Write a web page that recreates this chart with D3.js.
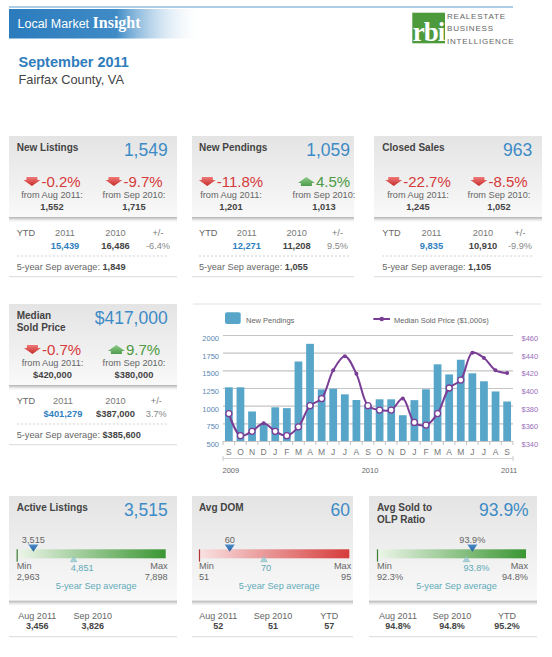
<!DOCTYPE html>
<html><head><meta charset="utf-8">
<script src="https://cdn.jsdelivr.net/npm/d3@7"></script>
<style>body{margin:0;background:#fff}svg{display:block;font-family:"Liberation Sans",Arial,Helvetica,sans-serif}</style>
</head><body><svg id="c" width="552" height="657"></svg>
<script>
// ---------- DATA ----------
const months = ["S","O","N","D","J","F","M","A","M","J","J","A","S","O","N","D","J","F","M","A","M","J","J","A","S"];
const yearLabels = ["2009","2010","2011"];
const yearMonthIdx = [0,12,24];
const newPendings = [1260,1260,918,738,977,965,1625,1875,1230,1240,1160,1080,1013,1090,1090,865,1078,1232,1585,1442,1650,1458,1345,1201,1059];
const medianPrice = [371,346,351,360,351,346,356,380,388,420,436,416,380,375,375,388,361,358,371,400,409,440,434,420,417];
const pendTicks = [500,750,1000,1250,1500,1750,2000];
const priceTicks = [340,360,380,400,420,440,460];
const legendLabels = ["New Pendings","Median Sold Price ($1,000s)"];

const statTitles = [["New Listings"],["New Pendings"],["Closed Sales"],["Median","Sold Price"]];
const statValues = ["1,549","1,059","963","$417,000"];
const chgMonth = [-0.2,-11.8,-22.7,-0.7];
const chgYear = [-9.7,4.5,-8.5,9.7];
const prevMonth = ["1,552","1,201","1,245","$420,000"];
const prevYear = ["1,715","1,013","1,052","$380,000"];
const ytd2011 = ["15,439","12,271","9,835","$401,279"];
const ytd2010 = ["16,486","11,208","10,910","$387,000"];
const ytdChg = ["-6.4%","9.5%","-9.9%","3.7%"];
const fiveYrAvg = ["1,849","1,055","1,105","$385,600"];

const gaugeTitles = [["Active Listings"],["Avg DOM"],["Avg Sold to","OLP Ratio"]];
const gaugeValueText = ["3,515","60","93.9%"];
const gaugeValue = [3515,60,93.9];
const gaugeMin = [2963,51,92.3];
const gaugeMax = [7898,95,94.8];
const gaugeAvg = [4851,70,93.8];
const gaugeStatLabels = [["Aug 2011","Sep 2010"],["Aug 2011","Sep 2010","YTD"],["Aug 2011","Sep 2010","YTD"]];
const gaugeStatValues = [["3,456","3,826"],["52","51","57"],["94.8%","94.8%","95.2%"]];

// ---------- SETUP ----------
const svg = d3.select("#c");
const defs = svg.append("defs");
function lin(id, stops, x2, y2){
  const g = defs.append("linearGradient").attr("id",id).attr("x1",0).attr("y1",0).attr("x2",x2).attr("y2",y2);
  stops.forEach(s=>g.append("stop").attr("offset",s[0]).attr("stop-color",s[1]).attr("stop-opacity",s[2]==null?1:s[2]));
}
lin("hdrBar",[[0,"#2b7bbd"],[0.55,"#3f8bc6"],[1,"#ffffff",0]],1,0);
lin("cardBg",[[0,"#e4e4e4"],[1,"#f9f9f9"]],0,1);
lin("shadow",[[0,"#b4b4b4"],[0.3,"#d4d4d4"],[1,"#ffffff",0]],0,1);
lin("arrRed",[[0,"#f07a78"],[1,"#c52a2a"]],0,1);
lin("arrGreen",[[0,"#4f9c4d"],[1,"#8ccb88"]],0,1);
lin("gGreen",[[0,"#eef6ea"],[1,"#3b9633"]],1,0);
lin("gRed",[[0,"#f9e2e2"],[1,"#d63b3b"]],1,0);
lin("triBlue",[[0,"#4a8ccc"],[1,"#24609c"]],0,1);

const blue = "#3d8bc6", red = "#d6393a", green = "#4c9a44", teal = "#5faab8";
const pct = v => v.toFixed(1) + "%";

// ---------- HEADER ----------
svg.append("line").attr("x1",9).attr("x2",513).attr("y1",7).attr("y2",7).attr("stroke","#5b9bd0").attr("stroke-width",1);
svg.append("rect").attr("x",9).attr("y",9).attr("width",195).attr("height",29.5).attr("fill","url(#hdrBar)");
const ht = svg.append("text").attr("x",17.5).attr("y",28).attr("fill","#fff");
ht.append("tspan").attr("font-size",12.5).text("Local Market ");
ht.append("tspan").attr("font-size",16).attr("font-weight","bold").attr("font-family","'Liberation Serif','Times New Roman',serif").text("Insight");

svg.append("rect").attr("x",412.3).attr("y",12.7).attr("width",32.7).attr("height",30.6).attr("fill","#4c9a3c");
svg.append("text").attr("x",428.6).attr("y",41).attr("text-anchor","middle").attr("fill","#fff")
  .attr("font-family","'Liberation Serif',serif").attr("font-weight","bold").attr("font-size",27).attr("letter-spacing",-1).text("rbi");
["REALESTATE","BUSINESS","INTELLIGENCE"].forEach((t,i)=>{
  svg.append("text").attr("x",447).attr("y",19+i*12.4).attr("font-size",8).attr("letter-spacing",0.8).attr("fill","#666").text(t);
});
svg.append("text").attr("x",18.5).attr("y",66.8).attr("font-size",14.5).attr("font-weight","bold").attr("fill","#2f7dbb").text("September 2011");
svg.append("text").attr("x",18.5).attr("y",83.5).attr("font-size",12.8).attr("fill","#444").text("Fairfax County, VA");

// ---------- HELPERS ----------
function arrow(g, cx, cy, up){
  const p = "M-5.5,-4.6L5.5,-4.6L5.5,-1.4L8.5,-1.4L0,4.6L-8.5,-1.4L-5.5,-1.4Z";
  g.append("path").attr("d",p).attr("transform",`translate(${cx},${cy})${up?" scale(1,-1)":""}`)
    .attr("fill", up?"url(#arrGreen)":"url(#arrRed)");
}
function changeGroup(g, c, base, v){
  const up = v > 0;
  const t = g.append("text").attr("y",base).attr("font-size",15).attr("fill",up?green:red).text(pct(v));
  const tw = t.node().getComputedTextLength();
  const total = 17 + 1 + tw;
  const x0 = c - total/2;
  arrow(g, x0+8.5, base-5, up);
  t.attr("x", x0+18);
}
function cardFrame(x, w, top, hdrH){
  svg.append("rect").attr("x",x).attr("y",top).attr("width",w).attr("height",hdrH).attr("fill","url(#cardBg)");
  svg.append("rect").attr("x",x).attr("y",top+hdrH-1).attr("width",w).attr("height",6).attr("fill","url(#shadow)");
  svg.append("line").attr("x1",x).attr("x2",x+w).attr("y1",top+140.7).attr("y2",top+140.7).attr("stroke","#d9d9d9");
}

// ---------- STAT CARDS ----------
const statLayout = [
  {x:9,w:168,top:136,tx:16.7,vr:167.7,c1:52,c2:134,cols:[65,115.5,158],dash:[16.7,168]},
  {x:192,w:162,top:136,tx:199,vr:350,c1:231,c2:324,cols:[246.7,296.7,337.5],dash:[199,350]},
  {x:374,w:168,top:136,tx:382.3,vr:532.3,c1:418,c2:499,cols:[431.5,483,520],dash:[382.3,533]},
  {x:9,w:168,top:304,tx:16.7,vr:167.7,c1:52.5,c2:134,cols:[63,115.5,156.3],dash:[16.7,168]}
];
statLayout.forEach((L,i)=>{
  const T = L.top;
  cardFrame(L.x, L.w, T, 82);
  const g = svg.append("g");
  statTitles[i].forEach((s,k)=>g.append("text").attr("x",L.tx).attr("y",T+14.8+k*12).attr("font-size",10).attr("font-weight","bold").attr("fill","#444").text(s));
  g.append("text").attr("x",L.vr).attr("y",T+19.5).attr("text-anchor","end").attr("font-size",17.5).attr("fill",blue).text(statValues[i]);
  changeGroup(g, L.c1, T+50.5, chgMonth[i]);
  changeGroup(g, L.c2, T+50.5, chgYear[i]);
  [[L.c1,"from Aug 2011:",prevMonth[i]],[L.c2,"from Sep 2010:",prevYear[i]]].forEach(d=>{
    g.append("text").attr("x",d[0]).attr("y",T+62.3).attr("text-anchor","middle").attr("font-size",9.2).attr("fill","#666").text(d[1]);
    g.append("text").attr("x",d[0]).attr("y",T+74.2).attr("text-anchor","middle").attr("font-size",9.3).attr("font-weight","bold").attr("fill","#444").text(d[2]);
  });
  g.append("text").attr("x",L.tx).attr("y",T+99.5).attr("font-size",9.2).attr("fill","#666").text("YTD");
  ["2011","2010","+/-"].forEach((s,k)=>g.append("text").attr("x",L.cols[k]).attr("y",T+99.5).attr("text-anchor","middle").attr("font-size",9.2).attr("fill","#777").text(s));
  g.append("text").attr("x",L.cols[0]).attr("y",T+112.5).attr("text-anchor","middle").attr("font-size",9.3).attr("font-weight","bold").attr("fill","#2f7fc0").text(ytd2011[i]);
  g.append("text").attr("x",L.cols[1]).attr("y",T+112.5).attr("text-anchor","middle").attr("font-size",9.3).attr("font-weight","bold").attr("fill","#444").text(ytd2010[i]);
  g.append("text").attr("x",L.cols[2]).attr("y",T+112.5).attr("text-anchor","middle").attr("font-size",9.2).attr("fill","#888").text(ytdChg[i]);
  g.append("line").attr("x1",L.dash[0]).attr("x2",L.dash[1]).attr("y1",T+120).attr("y2",T+120).attr("stroke","#d0d0d0").attr("stroke-dasharray","2,2");
  const a = g.append("text").attr("x",L.tx).attr("y",T+134).attr("font-size",9.2).attr("fill","#666");
  a.append("tspan").text("5-year Sep average:  ");
  a.append("tspan").attr("font-weight","bold").attr("fill","#444").text(fiveYrAvg[i]);
});

// ---------- CHART ----------
svg.append("line").attr("x1",193).attr("x2",541).attr("y1",304).attr("y2",304).attr("stroke","#e2e2e2");
const x = d3.scaleBand().domain(d3.range(months.length)).range([223,513]).paddingInner(0.33).paddingOuter(0.17);
const bw = x.bandwidth();
const yL = d3.scaleLinear().domain([500,2000]).range([441,335]);
const yR = d3.scaleLinear().domain([340,460]).range([441,335]);
const ch = svg.append("g");

ch.append("g").attr("transform","translate(223,0)")
  .call(d3.axisLeft(yL).tickValues(pendTicks).tickSize(-290).tickFormat(d=>d).tickPadding(4))
  .call(s=>{s.select(".domain").remove();
    s.selectAll(".tick line").attr("stroke","#c4c4c4").attr("stroke-width",1.2);
    s.selectAll(".tick text").attr("fill","#5a87b2").attr("font-size",7.5).attr("font-family","'Liberation Sans',Arial,sans-serif").attr("y",3);});
ch.append("g").attr("transform","translate(513,0)")
  .call(d3.axisRight(yR).tickValues(priceTicks).tickSize(0).tickPadding(8.5).tickFormat(d=>"$"+d))
  .call(s=>{s.select(".domain").remove();
    s.selectAll(".tick text").attr("fill","#9a70bb").attr("font-size",7.5).attr("font-family","'Liberation Sans',Arial,sans-serif").attr("y",3);});

ch.append("g").selectAll("rect").data(newPendings).join("rect")
  .attr("x",(d,i)=>x(i)).attr("width",bw).attr("y",d=>yL(d)).attr("height",d=>yL(500)-yL(d)).attr("fill","#57a6c9");

const step = x.step();
ch.append("g").selectAll("line").data(d3.range(months.length+1)).join("line")
  .attr("x1",i=>x(0)-step*x.paddingInner()/2+i*step).attr("x2",i=>x(0)-step*x.paddingInner()/2+i*step)
  .attr("y1",441).attr("y2",445).attr("stroke","#c4c4c4");
ch.append("g").selectAll("text").data(months).join("text")
  .attr("x",(d,i)=>x(i)+bw/2).attr("y",454.5).attr("text-anchor","middle").attr("font-size",8.5).attr("fill","#777").text(d=>d);
ch.append("line").attr("x1",223).attr("x2",513).attr("y1",458.5).attr("y2",458.5).attr("stroke","#d4d4d4");
[223,513].forEach(px=>ch.append("line").attr("x1",px).attr("x2",px).attr("y1",456).attr("y2",461).attr("stroke","#ccc"));
ch.append("g").selectAll("text").data(yearLabels).join("text")
  .attr("x",(d,i)=>x(yearMonthIdx[i])+bw/2+2).attr("y",472.5).attr("text-anchor","middle").attr("font-size",7.5).attr("fill","#666").text(d=>d);

const purple = "#7a3d96";
const line = d3.line().x((d,i)=>x(i)+bw/2).y(d=>yR(d)).curve(d3.curveCatmullRom.alpha(0.5));
ch.append("path").datum(medianPrice).attr("d",line).attr("fill","none").attr("stroke",purple).attr("stroke-width",2);
ch.append("g").selectAll("circle").data(medianPrice).join("circle")
  .attr("cx",(d,i)=>x(i)+bw/2).attr("cy",d=>yR(d))
  .each(function(d,i){
    const inside = yR(d) > yL(newPendings[i]) - 0.5;
    d3.select(this).attr("r",inside?3:2).attr("fill",inside?"#fff":purple).attr("stroke",inside?purple:"none").attr("stroke-width",1.3);
  });

ch.append("rect").attr("x",225).attr("y",312.3).attr("width",15.7).attr("height",11.7).attr("rx",2).attr("fill","#57a6c9");
ch.append("text").attr("x",246).attr("y",322.5).attr("font-size",7.5).attr("fill","#666").text(legendLabels[0]);
ch.append("line").attr("x1",373.3).attr("x2",390).attr("y1",319).attr("y2",319).attr("stroke",purple).attr("stroke-width",2);
ch.append("circle").attr("cx",381.7).attr("cy",319).attr("r",2.3).attr("fill",purple);
ch.append("text").attr("x",394).attr("y",322.5).attr("font-size",7.5).attr("fill","#666").text(legendLabels[1]);

// ---------- GAUGE CARDS ----------
const gaugeLayout = [
  {x:9,w:168,tx:16.7,vr:167.7,b0:16.7,b1:165.7,grad:"gGreen",edge:"#3a7a32",statX:[37.3,92.7]},
  {x:192,w:161,tx:199,vr:350,b0:199,b1:349.3,grad:"gRed",edge:"#b03434",statX:[218.3,273,329.3]},
  {x:369,w:168,tx:377,vr:528.7,b0:377,b1:526,grad:"gGreen",edge:"#3a7a32",statX:[398,452,507]}
];
const gFmt = [d3.format(","), d3.format("d"), v=>v.toFixed(1)+"%"];
gaugeLayout.forEach((L,i)=>{
  const T = 496;
  cardFrame(L.x, L.w, T, 105.7);
  const g = svg.append("g");
  gaugeTitles[i].forEach((s,k)=>g.append("text").attr("x",L.tx).attr("y",T+15+k*11.5).attr("font-size",10).attr("font-weight","bold").attr("fill","#444").text(s));
  g.append("text").attr("x",L.vr).attr("y",T+19.5).attr("text-anchor","end").attr("font-size",17.5).attr("fill",blue).text(gaugeValueText[i]);
  const s = d3.scaleLinear().domain([gaugeMin[i],gaugeMax[i]]).range([L.b0,L.b1]);
  g.append("rect").attr("x",L.b0).attr("y",T+53.3).attr("width",L.b1-L.b0).attr("height",9).attr("fill",`url(#${L.grad})`);
  g.append("line").attr("x1",L.b0+0.5).attr("x2",L.b0+0.5).attr("y1",T+53.3).attr("y2",T+65.7).attr("stroke",L.edge).attr("stroke-width",1.2);
  const vx = s(gaugeValue[i]);
  g.append("text").attr("x",vx).attr("y",T+46.5).attr("text-anchor","middle").attr("font-size",9.2).attr("fill","#666").text(gFmt[i](gaugeValue[i]));
  g.append("path").attr("d",`M${vx-5},${T+48.5}L${vx+5},${T+48.5}L${vx},${T+55.8}Z`).attr("fill","url(#triBlue)");
  const ax = s(gaugeAvg[i]);
  g.append("path").attr("d",`M${ax},${T+60.5}L${ax+3.3},${T+65.7}L${ax-3.3},${T+65.7}Z`).attr("fill","#a8d2d6").attr("stroke","#86bcc3").attr("stroke-width",0.6);
  g.append("text").attr("x",ax-3).attr("y",T+75).attr("font-size",9.2).attr("fill",teal).text(gFmt[i](gaugeAvg[i]));
  g.append("text").attr("x",L.b0).attr("y",T+73).attr("font-size",9.2).attr("fill","#666").text("Min");
  g.append("text").attr("x",L.b0).attr("y",T+83.5).attr("font-size",9.2).attr("fill","#666").text(gFmt[i](gaugeMin[i]));
  g.append("text").attr("x",L.b1+2).attr("y",T+73).attr("text-anchor","end").attr("font-size",9.2).attr("fill","#666").text("Max");
  g.append("text").attr("x",L.b1+2).attr("y",T+83.5).attr("text-anchor","end").attr("font-size",9.2).attr("fill","#666").text(gFmt[i](gaugeMax[i]));
  g.append("text").attr("x",(L.b0+L.b1)/2+5).attr("y",T+93).attr("text-anchor","middle").attr("font-size",9.2).attr("fill",teal).text("5-year Sep average");
  gaugeStatLabels[i].forEach((lab,k)=>{
    g.append("text").attr("x",L.statX[k]).attr("y",T+122.8).attr("text-anchor","middle").attr("font-size",9).attr("fill","#666").text(lab);
    g.append("text").attr("x",L.statX[k]).attr("y",T+133).attr("text-anchor","middle").attr("font-size",9).attr("font-weight","bold").attr("fill","#444").text(gaugeStatValues[i][k]);
  });
});
</script></body></html>
